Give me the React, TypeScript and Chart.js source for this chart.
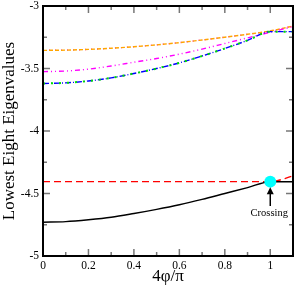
import React, { useEffect, useRef } from "react";
import { Chart, registerables } from "chart.js";

Chart.register(...registerables);

// ---------- data ----------
const X = [0, 0.1, 0.2, 0.3, 0.4, 0.5, 0.6, 0.7, 0.8, 0.9, 1.0, 1.1];
const BLACK = [-4.73, -4.725, -4.71, -4.69, -4.66, -4.627, -4.59, -4.547, -4.5, -4.453, -4.405, -4.405];
const RED = [-4.405, -4.405, -4.405, -4.405, -4.405, -4.405, -4.405, -4.405, -4.405, -4.405, -4.405, -4.36];
const BLUE = [-3.62, -3.615, -3.6, -3.575, -3.54, -3.5, -3.455, -3.4, -3.34, -3.275, -3.205, -3.205];
const GREEN = [-3.62, -3.615, -3.6, -3.575, -3.54, -3.5, -3.455, -3.4, -3.34, -3.275, -3.205, -3.205];
const MAGENTA = [-3.525, -3.52, -3.505, -3.48, -3.45, -3.42, -3.385, -3.345, -3.3, -3.255, -3.21, -3.165];
const ORANGE = [-3.355, -3.353, -3.347, -3.338, -3.326, -3.311, -3.293, -3.272, -3.25, -3.226, -3.2, -3.16];
const MAGENTA_TOP = [-3.355, -3.353, -3.347, -3.338, -3.326, -3.311, -3.293, -3.272, -3.25, -3.226, -3.2, -3.16];

const CROSS_X = [1];
const CROSS_Y = [-4.405];
const ARROW_X = 1;
const ARROW_TIP = -4.45;
const ARROW_TAIL = -4.6;
const LABEL_Y = -4.66;
const LABEL_TEXT = "Crossing";

const X_MAJOR = [0, 0.2, 0.4, 0.6, 0.8, 1];
const X_MINOR = [0.1, 0.3, 0.5, 0.7, 0.9];
const Y_MAJOR = [-5, -4.5, -4, -3.5, -3];
const Y_MINOR = [-4.75, -4.25, -3.75, -3.25];

const X_TITLE = "4φ/π";
const Y_TITLE = "Lowest Eight Eigenvalues";

const SERIF = "'Liberation Serif', 'Times New Roman', serif";

const pts = (ys: number[]) => X.map((x, i) => ({ x, y: ys[i] }));

const framePlugin = {
  id: "framePlugin",
  afterDraw(chart: any) {
    const { ctx, chartArea, scales } = chart;
    const { left, right, top, bottom } = chartArea;
    const xs = scales.x;
    const ys = scales.y;
    ctx.save();
    ctx.strokeStyle = "#777";
    ctx.lineWidth = 1.5;
    const line = (x1: number, y1: number, x2: number, y2: number) => {
      ctx.beginPath();
      ctx.moveTo(x1, y1);
      ctx.lineTo(x2, y2);
      ctx.stroke();
    };
    const xt = (vals: number[], len: number) => {
      vals.forEach((v) => {
        const p = xs.getPixelForValue(v);
        line(p, bottom, p, bottom - len);
        line(p, top, p, top + len);
      });
    };
    const yt = (vals: number[], len: number) => {
      vals.forEach((v) => {
        const p = ys.getPixelForValue(v);
        line(left, p, left + len, p);
        line(right, p, right - len, p);
      });
    };
    xt(X_MAJOR, 7);
    xt(X_MINOR, 4);
    yt(Y_MAJOR, 7);
    yt(Y_MINOR, 4);
    ctx.strokeStyle = "#000";
    ctx.lineWidth = 2;
    ctx.strokeRect(left, top, right - left, bottom - top);
    const ax = xs.getPixelForValue(ARROW_X);
    const tipY = ys.getPixelForValue(ARROW_TIP);
    const tailY = ys.getPixelForValue(ARROW_TAIL);
    ctx.strokeStyle = "#000";
    ctx.fillStyle = "#000";
    ctx.lineWidth = 1.5;
    line(ax, tailY, ax, tipY + 5);
    ctx.beginPath();
    ctx.moveTo(ax, tipY);
    ctx.lineTo(ax - 3.5, tipY + 7);
    ctx.lineTo(ax + 3.5, tipY + 7);
    ctx.closePath();
    ctx.fill();
    ctx.font = `10.5px ${SERIF}`;
    ctx.textAlign = "center";
    ctx.textBaseline = "middle";
    ctx.fillText(LABEL_TEXT, ax - 1, ys.getPixelForValue(LABEL_Y));
    ctx.restore();
  },
};

export default function App() {
  const ref = useRef<HTMLCanvasElement | null>(null);
  useEffect(() => {
    if (!ref.current) return;
    const lineDs = (label: string, ys: number[], color: string, dash: number[], width = 1.4) => ({
      type: "line" as const,
      label,
      data: pts(ys),
      borderColor: color,
      backgroundColor: color,
      borderWidth: width,
      borderDash: dash,
      pointRadius: 0,
      fill: false,
      cubicInterpolationMode: "monotone" as const,
    });
    const chart = new Chart(ref.current, {
      type: "line",
      data: {
        datasets: [
          {
            type: "scatter" as const,
            label: "crossing",
            data: CROSS_X.map((x, i) => ({ x, y: CROSS_Y[i] })),
            pointRadius: 6,
            pointBackgroundColor: "#00FFFF",
            pointBorderColor: "#00FFFF",
            pointBorderWidth: 0,
            showLine: false,
          } as any,
          lineDs("e1", BLACK, "#000000", [], 1.5),
          lineDs("e2", RED, "#FF0000", [7, 4]),
          lineDs("e3g", GREEN, "#00E000", [2, 6], 2),
          lineDs("e4b", BLUE, "#0000FF", [6, 2, 1, 2]),
          lineDs("e5", MAGENTA, "#FF00FF", [5, 3, 1, 3, 1, 3]),
          lineDs("e6o", ORANGE, "#FFA500", [4, 2]),
          lineDs("e7m", MAGENTA_TOP, "#FF00FF", [1, 5]),
        ],
      },
      options: {
        responsive: false,
        animation: false,
        events: [],
        layout: { padding: { top: 5, right: 2, left: 0, bottom: 0 } },
        plugins: {
          legend: { display: false },
          tooltip: { enabled: false },
        },
        scales: {
          x: {
            type: "linear",
            min: 0,
            max: 1.1,
            grid: { display: false, drawTicks: false },
            border: { display: false },
            afterBuildTicks: (s: any) => {
              s.ticks = X_MAJOR.map((v) => ({ value: v }));
            },
            afterFit: (s: any) => {
              s.height = 33;
              s.paddingLeft = 0;
              s.paddingRight = 0;
            },
            ticks: {
              padding: 3,
              color: "#000",
              font: { family: SERIF, size: 11.5 },
              callback: (v: any) => String(v),
              maxRotation: 0,
            },
            title: {
              display: true,
              text: X_TITLE,
              color: "#000",
              font: { family: SERIF, size: 17, lineHeight: 1 },
              padding: { top: 0, bottom: 3.5 },
            },
          },
          y: {
            type: "linear",
            min: -5,
            max: -3,
            grid: { display: false, drawTicks: false },
            border: { display: false },
            afterBuildTicks: (s: any) => {
              s.ticks = Y_MAJOR.map((v) => ({ value: v }));
            },
            afterFit: (s: any) => {
              s.width = 43;
              s.paddingTop = 0;
              s.paddingBottom = 0;
            },
            ticks: {
              padding: 4,
              color: "#000",
              font: { family: SERIF, size: 11.5 },
              callback: (v: any) => String(v),
            },
            title: {
              display: true,
              text: Y_TITLE,
              color: "#000",
              font: { family: SERIF, size: 17, lineHeight: 1 },
              padding: { top: 1, bottom: 0 },
            },
          },
        },
      },
      plugins: [framePlugin],
    });
    return () => chart.destroy();
  }, []);
  return (
    <div style={{ position: "fixed", left: 0, top: 0, width: 299, height: 289, background: "#fff" }}>
      <canvas ref={ref} width={299} height={289} />
    </div>
  );
}
